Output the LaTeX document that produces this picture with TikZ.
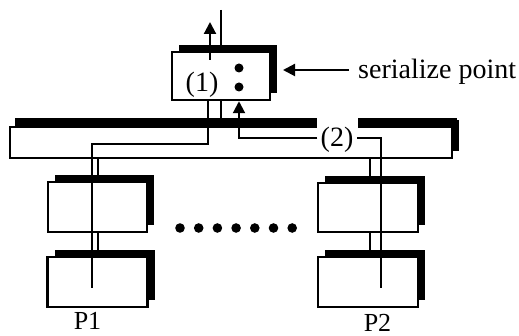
\documentclass[tikz,border=0pt]{standalone}
\usepackage{fontspec}
\setmainfont{Liberation Serif}
\usetikzlibrary{shadows,arrows.meta}
\begin{document}
\begin{tikzpicture}[x=1pt,y=-1pt,
  box/.style={draw, line width=2.5pt, fill=white, inner sep=0pt,
    general shadow={fill=black, shadow xshift=7pt, shadow yshift=7pt}},
  wire/.style={line width=2.1pt},
  lbl/.style={font=\fontsize{28}{32}\selectfont, inner sep=0pt},
  plbl/.style={font=\fontsize{26}{30}\selectfont, inner sep=0pt},
  tip/.style={-{Triangle[length=12pt,width=12pt]}},
  dot/.style={fill=black}
]
\useasboundingbox (0,0) rectangle (519,336);
% boxes
\node[box, minimum width=98pt, minimum height=48pt] (srv) at (221,76) {};
\node[box, minimum width=442pt, minimum height=31pt,
  general shadow={fill=black, shadow xshift=5pt, shadow yshift=9pt}] (bus) at (231,142.5) {};
\node[box, minimum width=99pt, minimum height=50pt] (p1a) at (97.5,207) {};
\node[box, minimum width=100pt, minimum height=50pt] (p1b) at (97.5,282) {};
\node[box, minimum width=100pt, minimum height=49pt] (p2a) at (368,207.5) {};
\node[box, minimum width=100pt, minimum height=50pt] (p2b) at (368,282) {};
% gap in bus shadow for label (2)
\fill[white] (317,115) rectangle (358,128.6);
% labels
\node[lbl, anchor=base] (one) at (202,92) {(1)};
\node[lbl, anchor=base] (two) at (337,147) {(2)};
\node[lbl, anchor=base west] (ser) at (358,79) {serialize point};
\node[plbl, anchor=base] (P1) at (87.5,330) {P1};
\node[plbl, anchor=base] (P2) at (377.5,331) {P2};
% dots inside server box
\fill[dot] (239,68) circle[radius=4.5pt];
\fill[dot] (239,87) circle[radius=4.5pt];
% ellipsis dots
\foreach \i in {0,...,6} \fill[dot] ({180+18.7*\i},228) circle[radius=4.8pt];
% top connectors
\coordinate (u0) at (210,60);
\coordinate (u1) at (210,22);
\draw[wire,tip] (u0) -- (u1);
\coordinate (t0) at (221,10);
\draw[wire] (t0) -- (srv.north);
% serialize arrow
\coordinate (s1) at (283,70);
\draw[wire,tip,shorten <=9pt] (ser.west |- s1) -- (s1);
% wire A: server to P1
\coordinate (a1) at ([xshift=-13pt]srv.south);
\coordinate (a2) at (208,144);
\coordinate (a3) at (92,144);
\coordinate (a4) at (92,288);
\draw[wire] (a1) -- (a2) -- (a3) -- (a4);
\draw[wire] (srv.south) -- (srv.south |- bus.north);
\coordinate (b1) at (98,158);
\draw[wire] (b1) -- (p1a.north -| b1);
\draw[wire] (p1a.south -| b1) -- (p1b.north -| b1);
% wire C: P2 to server
\coordinate (c0) at (381,288);
\coordinate (c1) at (381,138);
\coordinate (c3) at (239,138);
\coordinate (c4) at ([xshift=18pt]srv.south);
\draw[wire] (c0) -- (c1) -- ([xshift=3pt]two.east |- c1);
\draw[wire,tip] ([xshift=-3pt]two.west |- c1) -- (c3) -- (c4);
\coordinate (d1) at (370,158);
\draw[wire] (d1) -- (p2a.north -| d1);
\draw[wire] (p2a.south -| d1) -- (p2b.north -| d1);
\end{tikzpicture}
\end{document}
